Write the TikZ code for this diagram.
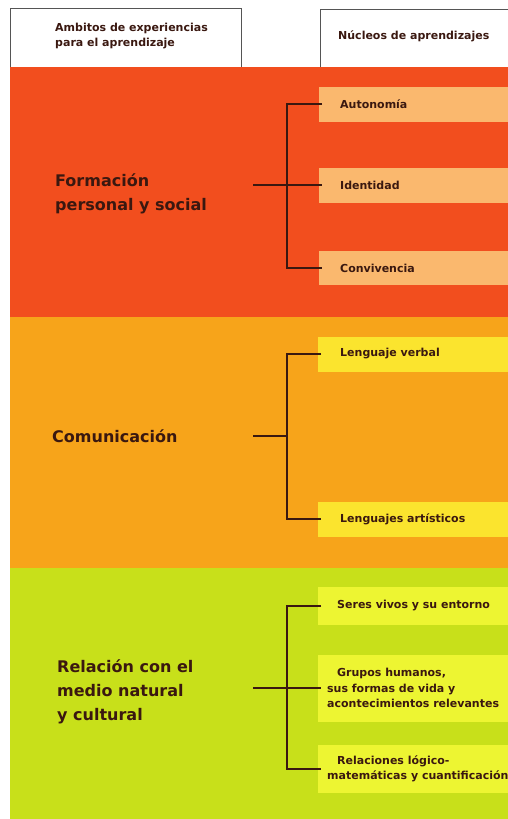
\documentclass[tikz,border=0pt]{standalone}
\usepackage{fontspec}
\setmainfont{DejaVu Sans}
\usetikzlibrary{positioning}

\definecolor{rojo}{RGB}{242,78,30}
\definecolor{rojoclaro}{RGB}{250,184,110}
\definecolor{naranja}{RGB}{247,164,26}
\definecolor{naranjaclaro}{RGB}{251,228,46}
\definecolor{verde}{RGB}{200,224,26}
\definecolor{verdeclaro}{RGB}{237,245,50}
\definecolor{tinta}{RGB}{58,24,16}
\definecolor{marco}{RGB}{85,85,85}

\begin{document}
\begin{tikzpicture}[
  x=1pt, y=-1pt,
  ambito/.style={anchor=west,align=left,inner sep=0pt,text=tinta,font=\bfseries\fontsize{16}{24}\selectfont},
  nucleo/.style={anchor=west,align=left,inner sep=0pt,text=tinta,font=\bfseries\fontsize{11}{15.5}\selectfont},
  franja/.style={anchor=west,minimum width=190pt,minimum height=#1,inner sep=0pt,outer sep=0pt},
  brazo/.style={draw=tinta,line width=1.4pt},
  cabecera/.style={draw=marco,line width=1pt}
]
  \fill[white] (0,0) rectangle (508,819);
  \useasboundingbox (0,0) rectangle (508,819);

  % cabeceras
  \draw[cabecera] (10,67) |- (241,8) -- (241,67);
  \draw[cabecera] (320,67) |- (509,9);
  \node[nucleo] (hAmb) at (55,36) {Ambitos de experiencias\\para el aprendizaje};
  \node[nucleo] (hNuc) at (338,36) {Núcleos de aprendizajes};

  % bandas
  \fill[rojo] (10,67) rectangle (508,317);
  \fill[naranja] (10,317) rectangle (508,568);
  \fill[verde] (10,568) rectangle (508,819);

  % formacion personal y social
  \node[franja=35pt,fill=rojoclaro] (fAut) at (319,104) {};
  \node[franja=35pt,fill=rojoclaro] (fIde) at (319,185) {};
  \node[franja=34pt,fill=rojoclaro] (fCon) at (319,268) {};
  \node[nucleo,right=21pt of fAut.west] (aut) {Autonomía};
  \node[nucleo,right=21pt of fIde.west] (ide) {Identidad};
  \node[nucleo,right=21pt of fCon.west] (con) {Convivencia};
  \node[ambito] (form) at (55,194) {Formación\\personal y social};
  \coordinate (sRoj) at (253,185);
  \coordinate (jRoj) at (287,185);
  \draw[brazo] ([xshift=3pt]fAut.west) -| (jRoj) |- ([xshift=3pt]fCon.west);
  \draw[brazo] (sRoj) -- ([xshift=3pt]fIde.west);

  % comunicacion
  \node[franja=35pt,fill=naranjaclaro] (fLVe) at (318,354) {};
  \node[franja=35pt,fill=naranjaclaro] (fLAr) at (318,519) {};
  \node[nucleo,right=22pt of fLVe.west] (lve) {Lenguaje verbal};
  \node[nucleo,right=22pt of fLAr.west] (lar) {Lenguajes artísticos};
  \node[ambito] (comu) at (52,436) {Comunicación};
  \coordinate (sNar) at (253,436);
  \coordinate (jNar) at (287,436);
  \draw[brazo] ([xshift=3pt]fLVe.west) -| (jNar) |- ([xshift=3pt]fLAr.west);
  \draw[brazo] (sNar) -- (jNar);

  % relacion con el medio
  \node[franja=38pt,fill=verdeclaro] (fSer) at (318,606) {};
  \node[franja=67pt,fill=verdeclaro] (fGru) at (318,688) {};
  \node[franja=48pt,fill=verdeclaro] (fRel) at (318,769) {};
  \node[nucleo,right=19pt of fSer.west] (ser) {Seres vivos y su entorno};
  \node[nucleo,right=9pt of fGru.west] (gru) {\hspace*{10pt}Grupos humanos,\\sus formas de vida y\\acontecimientos relevantes};
  \node[nucleo,right=9pt of fRel.west] (rel) {\hspace*{10pt}Relaciones lógico-\\matemáticas y cuantificación};
  \node[ambito] (medio) at (57,692) {Relación con el\\medio natural\\y cultural};
  \coordinate (sVer) at (253,688);
  \coordinate (jVer) at (287,688);
  \draw[brazo] ([xshift=3pt]fSer.west) -| (jVer) |- ([xshift=3pt]fRel.west);
  \draw[brazo] (sVer) -- ([xshift=3pt]fGru.west);
\end{tikzpicture}
\end{document}
